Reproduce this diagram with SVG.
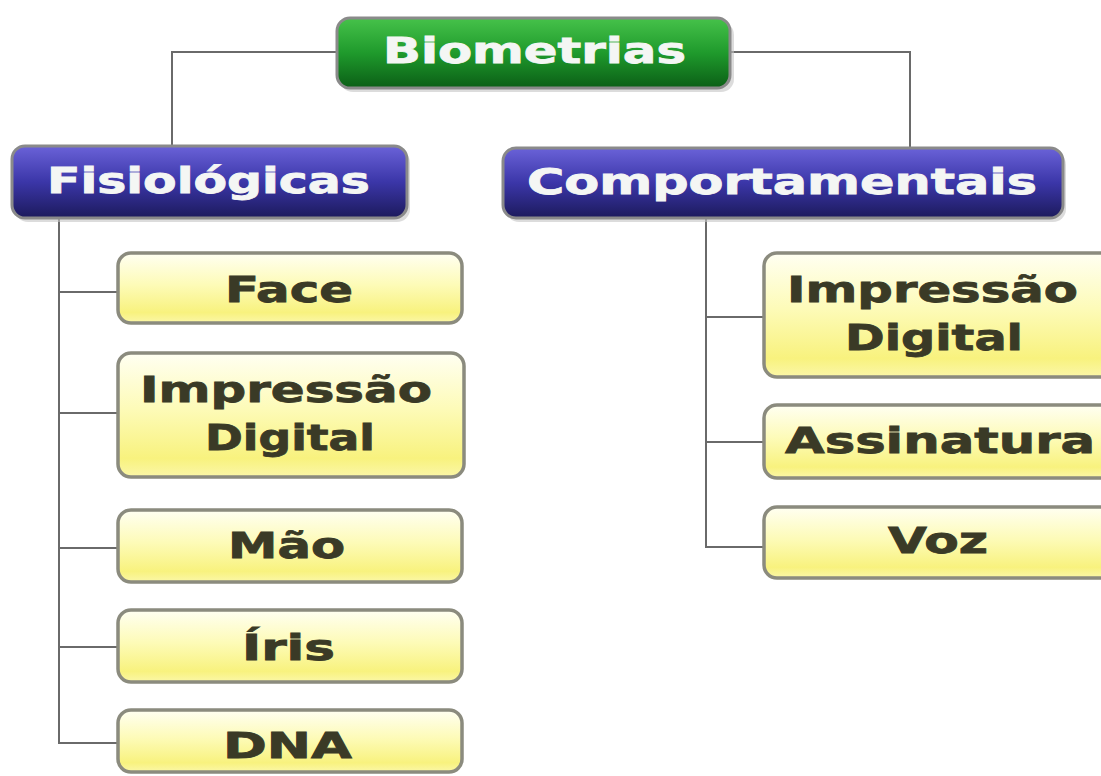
<svg xmlns="http://www.w3.org/2000/svg" width="1101" height="776" viewBox="0 0 1101 776">
<defs>
<linearGradient id="gGreen" x1="0" y1="0" x2="0" y2="1">
<stop offset="0" stop-color="#46c24a"/>
<stop offset="0.5" stop-color="#1f9a2c"/>
<stop offset="1" stop-color="#0b5e16"/>
</linearGradient>
<linearGradient id="gBlue" x1="0" y1="0" x2="0" y2="1">
<stop offset="0" stop-color="#6a62d8"/>
<stop offset="0.5" stop-color="#3b36a8"/>
<stop offset="1" stop-color="#1c1a5c"/>
</linearGradient>
<linearGradient id="gYellow" x1="0" y1="0" x2="0" y2="1">
<stop offset="0" stop-color="#fffff2"/>
<stop offset="0.45" stop-color="#fdfbb8"/>
<stop offset="0.85" stop-color="#f8f27e"/>
<stop offset="1" stop-color="#fbf7a8"/>
</linearGradient>
<style>
.conn{fill:none;stroke:#6a6a6a;stroke-width:2}
.shadow{fill:#c4c4c4;opacity:0.6}
.top{stroke:#8a8a8a;stroke-width:3}
.yel{fill:url(#gYellow);stroke:#8b8b7e;stroke-width:3.5}
.tw{font-family:"DejaVu Sans","Liberation Sans",sans-serif;font-weight:bold;fill:#f4f6f4;stroke:#f4f6f4;stroke-width:0.8;font-size:35px}
.ty{font-family:"DejaVu Sans","Liberation Sans",sans-serif;font-weight:bold;fill:#3a3a26;stroke:#3a3a26;stroke-width:0.8;font-size:35px}
</style>
</defs>
<rect width="1101" height="776" fill="#ffffff"/>
<g id="connectors">
<path class="conn" d="M337 52 H172 V146"/>
<path class="conn" d="M730 52 H910 V148"/>
<path class="conn" d="M59 218 V743 H118"/>
<path class="conn" d="M59 292 H118 M59 413 H118 M59 548 H118 M59 647 H118"/>
<path class="conn" d="M706 218 V547 H764"/>
<path class="conn" d="M706 317 H764 M706 442 H764"/>
</g>
<g id="n-biometrias">
<rect class="shadow" x="340" y="22" width="394" height="70" rx="13"/>
<rect class="top" x="337" y="18" width="393" height="70" rx="13" fill="url(#gGreen)"/>
<text class="tw" x="383" y="63" textLength="303" lengthAdjust="spacingAndGlyphs">Biometrias</text>
</g>
<g id="n-fisiologicas">
<rect class="shadow" x="15" y="150" width="395" height="72" rx="13"/>
<rect class="top" x="12" y="146" width="395" height="72" rx="13" fill="url(#gBlue)"/>
<text class="tw" x="47" y="193" textLength="323" lengthAdjust="spacingAndGlyphs">Fisiológicas</text>
</g>
<g id="n-comportamentais">
<rect class="shadow" x="506" y="152" width="560" height="70" rx="13"/>
<rect class="top" x="503" y="148" width="560" height="70" rx="13" fill="url(#gBlue)"/>
<text class="tw" x="527" y="194" textLength="510" lengthAdjust="spacingAndGlyphs">Comportamentais</text>
</g>
<g id="n-face">
<rect class="yel" x="118" y="253" width="344" height="70" rx="13"/>
<text class="ty" x="225" y="302" textLength="128" lengthAdjust="spacingAndGlyphs">Face</text>
</g>
<g id="n-impressao-l">
<rect class="yel" x="118" y="353" width="346" height="124" rx="13"/>
<text class="ty" x="140" y="402" textLength="292" lengthAdjust="spacingAndGlyphs">Impressão</text>
<text class="ty" x="205" y="450" textLength="170" lengthAdjust="spacingAndGlyphs">Digital</text>
</g>
<g id="n-mao">
<rect class="yel" x="118" y="510" width="344" height="72" rx="13"/>
<text class="ty" x="228" y="558" textLength="117" lengthAdjust="spacingAndGlyphs">Mão</text>
</g>
<g id="n-iris">
<rect class="yel" x="118" y="610" width="344" height="72" rx="13"/>
<text class="ty" x="242" y="660" textLength="93" lengthAdjust="spacingAndGlyphs">Íris</text>
</g>
<g id="n-dna">
<rect class="yel" x="118" y="710" width="344" height="62" rx="13"/>
<text class="ty" x="223" y="758" textLength="129" lengthAdjust="spacingAndGlyphs">DNA</text>
</g>
<g id="n-impressao-r">
<rect class="yel" x="764" y="253" width="350" height="124" rx="13"/>
<text class="ty" x="787" y="302" textLength="291" lengthAdjust="spacingAndGlyphs">Impressão</text>
<text class="ty" x="845" y="350" textLength="178" lengthAdjust="spacingAndGlyphs">Digital</text>
</g>
<g id="n-assinatura">
<rect class="yel" x="764" y="405" width="350" height="73" rx="13"/>
<text class="ty" x="785" y="453" textLength="310" lengthAdjust="spacingAndGlyphs">Assinatura</text>
</g>
<g id="n-voz">
<rect class="yel" x="764" y="507" width="350" height="71" rx="13"/>
<text class="ty" x="888" y="553" textLength="100" lengthAdjust="spacingAndGlyphs">Voz</text>
</g>
</svg>
